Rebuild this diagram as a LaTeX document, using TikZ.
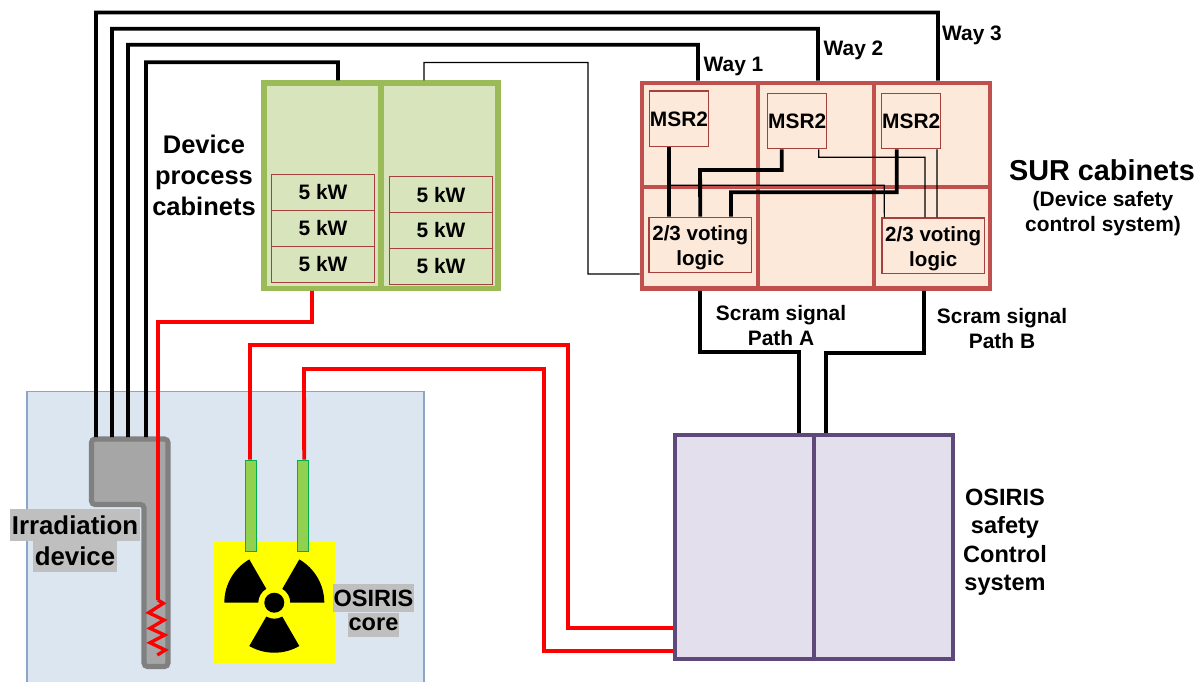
\documentclass[tikz,border=0pt]{standalone}
\usepackage{fontspec}
\setmainfont{Liberation Sans}
\usepackage{xcolor}
\usetikzlibrary{arrows.meta,positioning,calc}
\definecolor{panelblue}{HTML}{DCE6F1}
\definecolor{paneledge}{HTML}{8DA5C4}
\definecolor{cabgreen}{HTML}{D8E4BC}
\definecolor{cabedge}{HTML}{9BBB59}
\definecolor{surfill}{HTML}{FDE9D9}
\definecolor{suredge}{HTML}{C0504D}
\definecolor{boxedge}{HTML}{A5403D}
\definecolor{osfill}{HTML}{E4DFEC}
\definecolor{osedge}{HTML}{5F497A}
\definecolor{rodfill}{HTML}{92D050}
\definecolor{rodedge}{HTML}{00B050}
\definecolor{tagfill}{HTML}{BFBFBF}
\definecolor{coreyellow}{HTML}{FFFF00}
\definecolor{wirered}{HTML}{FF0000}
\tikzset{
  cabinet/.style={draw=cabedge, fill=cabgreen, line width=2.9pt, inner sep=0pt, minimum width=2.34cm, minimum height=4.11cm},
  surcell/.style={draw=suredge, fill=surfill, line width=2.7pt, inner sep=0pt, minimum width=2.32cm},
  oscabinet/.style={draw=osedge, fill=osfill, line width=2.5pt, inner sep=0pt, minimum width=2.78cm, minimum height=4.48cm},
  kwbox/.style={draw=boxedge, line width=0.8pt, inner sep=0pt, text height=0.3cm, text depth=0pt, minimum width=2.05cm, minimum height=0.72cm, font=\bfseries\fontsize{11.9}{14}\selectfont},
  msrbox/.style={draw=boxedge, line width=0.7pt, inner sep=0pt, text height=0.3cm, text depth=0pt, minimum width=1.18cm, minimum height=1.11cm, font=\bfseries\fontsize{11.9}{14}\selectfont},
  votebox/.style={draw=boxedge, line width=0.7pt, inner sep=0pt, align=center, minimum width=2.05cm, minimum height=1.11cm, font=\bfseries\fontsize{11.7}{14.2}\selectfont},
  rod/.style={draw=rodedge, fill=rodfill, line width=0.9pt, inner sep=0pt, minimum width=0.22cm, minimum height=1.82cm},
  tag/.style={fill=tagfill, inner sep=0pt, font=\bfseries\fontsize{14.7}{16}\selectfont},
  coretag/.style={tag, font=\bfseries\fontsize{13.4}{16}\selectfont},
  waylabel/.style={inner sep=0pt, font=\bfseries\fontsize{11.9}{14}\selectfont},
  caption/.style={inner sep=0pt, align=center, font=\bfseries\fontsize{11.9}{14.2}\selectfont},
  wire/.style={draw=black, line width=2.2pt},
  thinwire/.style={draw=black, line width=0.7pt},
  redwire/.style={draw=wirered, line width=2.2pt}
}

\begin{document}
\begin{tikzpicture}[x=0.02cm,y=-0.02cm]
\useasboundingbox (0,0) rectangle (1203,681);

\node[draw=paneledge, fill=panelblue, line width=0.7pt, inner sep=0pt, minimum width=7.94cm, minimum height=6.1cm] (panel) at (225.5,544) {};

\fill[fill=black!35, draw=black!50, line width=2.9pt, rounded corners=2pt] (91.5,439) -- (168,439) -- (168,666.5) -- (144,666.5) -- (144,504.5) -- (91.5,504.5) -- cycle;
\coordinate (irradA) at (96,437);
\coordinate (irradB) at (112,437);
\coordinate (irradC) at (128,437);
\coordinate (irradD) at (146,437);
\coordinate (heater) at (158,600);

\node[fill=coreyellow, inner sep=0pt, minimum width=2.42cm, minimum height=2.43cm] (core) at (274.5,602.5) {};
\begin{scope}[shift={(274.3,602.7)},x=0.02cm,y=0.02cm]
\foreach \a in {0,120,240}
  \fill[black] (\a:16) -- (\a:50) arc[start angle=\a, delta angle=60, radius=50] -- ({\a+60}:16) arc[start angle=\a+60, delta angle=-60, radius=16] -- cycle;
\fill[black] (0,0) circle (10);
\end{scope}
\node[rod] (rodA) at (251,506) {};
\node[rod] (rodB) at (303.2,506) {};

\node[cabinet] (cabA) at (322.5,185.7) {};
\node[cabinet] (cabB) at (439.5,185.7) {};
\node[kwbox] (kwA) at (323,192.3) {5 kW};
\node[kwbox] (kwB) at (323,228.3) {5 kW};
\node[kwbox] (kwC) at (323,264.3) {5 kW};
\node[kwbox] (kwD) at (441,194.5) {5 kW};
\node[kwbox] (kwE) at (441,230.3) {5 kW};
\node[kwbox] (kwF) at (441,266.3) {5 kW};

\node[surcell, minimum height=2.08cm] (surA) at (700,135) {};
\node[surcell, minimum height=2.08cm] (surB) at (816,135) {};
\node[surcell, minimum height=2.08cm] (surC) at (932,135) {};
\node[surcell, minimum height=2.03cm] (surD) at (700,237.7) {};
\node[surcell, minimum height=2.03cm] (surE) at (816,237.7) {};
\node[surcell, minimum height=2.03cm] (surF) at (932,237.7) {};
\node[msrbox] (msrA) at (679,118.8) {MSR2};
\node[msrbox] (msrB) at (797.2,121) {MSR2};
\node[msrbox] (msrC) at (911.2,121) {MSR2};
\node[votebox] (voteA) at (700.3,245) {\rule{0pt}{12pt}2/3 voting\\logic};
\node[votebox] (voteB) at (933.2,245.8) {\rule{0pt}{12pt}2/3 voting\\logic};

\node[oscabinet] (osA) at (744.5,547) {};
\node[oscabinet] (osB) at (883.5,547) {};

\draw[wire] (irradA) -- (96,12.5) -- (938,12.5) -- ([xshift=0.12cm]surC.north);
\draw[wire] (irradB) -- (112,28.7) -- (818,28.7) -- ([xshift=0.04cm]surB.north);
\draw[wire] (irradC) -- (128,44.7) -- (698,44.7) -- ([xshift=-0.04cm]surA.north);
\draw[wire] (irradD) -- (146,62.3) -- (338,62.3) -- ([xshift=0.31cm]cabA.north);
\draw[thinwire] ([xshift=-0.31cm]cabB.north) -- (424,62.5) -- (588,62.5) -- (588,274) -- ([yshift=-0.725cm]surD.west);

\draw[redwire] ([xshift=-0.21cm]cabA.south) -- (312,322) -- (158,322) -- (heater);
\draw[redwire, line width=1.9pt] (heater) -- (163.3,603.3) -- (148.7,612.7) -- (164,620) -- (150,628.3) -- (164.7,635) -- (150,642.7) -- (165.3,650) -- (157.3,655);
\draw[redwire] ([xshift=-0.02cm]rodA.north) -- (250,345) -- (568,345) -- (568,628) -- ([yshift=-1.62cm]osA.west);
\draw[redwire] ([xshift=0.02cm]rodB.north) -- (304,369) -- (544,369) -- (544,651) -- ([yshift=-2.08cm]osA.west);

\draw[wire] (surD.south) -- (700,352) -- (799,352) -- ([xshift=1.09cm]osA.north);
\draw[wire] ([xshift=-0.16cm]surF.south) -- (924,353) -- (826,353) -- ([xshift=-1.15cm]osB.north);

\draw[wire] ([xshift=-0.2cm]msrA.south) -- ([xshift=-0.627cm]voteA.north);
\draw[wire] ([xshift=-0.31cm]msrB.south) -- (781.7,170) -- (700,170) -- (voteA.north);
\draw[wire] ([xshift=-0.29cm]msrC.south) -- (896.7,192.3) -- (731,192.3) -- ([xshift=0.613cm]voteA.north);
\coordinate (tapA) at (669,185.3);
\draw[thinwire] (tapA) -- (884.3,185.3) -- ([xshift=-0.977cm]voteB.north);
\draw[thinwire] ([xshift=0.43cm]msrB.south) -- (818.7,157.3) -- (925,157.3) -- ([xshift=-0.163cm]voteB.north);
\draw[thinwire] ([xshift=0.516cm]msrC.south) -- ([xshift=0.077cm]voteB.north);

\node[waylabel] (wayA) at (733.5,66) {Way 1};
\node[waylabel] (wayB) at (853.5,50) {Way 2};
\node[waylabel] (wayC) at (972,35) {Way 3};
\node[caption, font=\bfseries\fontsize{14.5}{17.6}\selectfont] (devlabel) at (204,175) {Device\\process\\cabinets};
\node[inner sep=0pt, font=\bfseries\fontsize{16.4}{20}\selectfont] (surlabel) at (1102,170) {SUR cabinets};
\node[caption] (sursub) at (1103,214) {(Device safety\\control system)};
\node[caption] (scramA) at (781,325.5) {Scram signal\\Path A};
\node[caption] (scramB) at (1002,328.5) {Scram signal\\Path B};
\node[caption, font=\bfseries\fontsize{13.4}{16.2}\selectfont] (oslabel) at (1005,542) {OSIRIS\\safety\\Control\\system};
\node[tag, minimum width=2.6cm, minimum height=0.64cm] (irradtagA) at (75,525) {Irradiation};
\node[tag, minimum width=1.68cm, minimum height=0.62cm] (irradtagB) at (75,556.5) {device};
\node[coretag, minimum width=1.62cm, minimum height=0.56cm] (coretagA) at (373.5,598) {OSIRIS};
\node[coretag, minimum width=1.02cm, minimum height=0.48cm] (coretagB) at (373.5,624.5) {core};
\end{tikzpicture}
\end{document}
